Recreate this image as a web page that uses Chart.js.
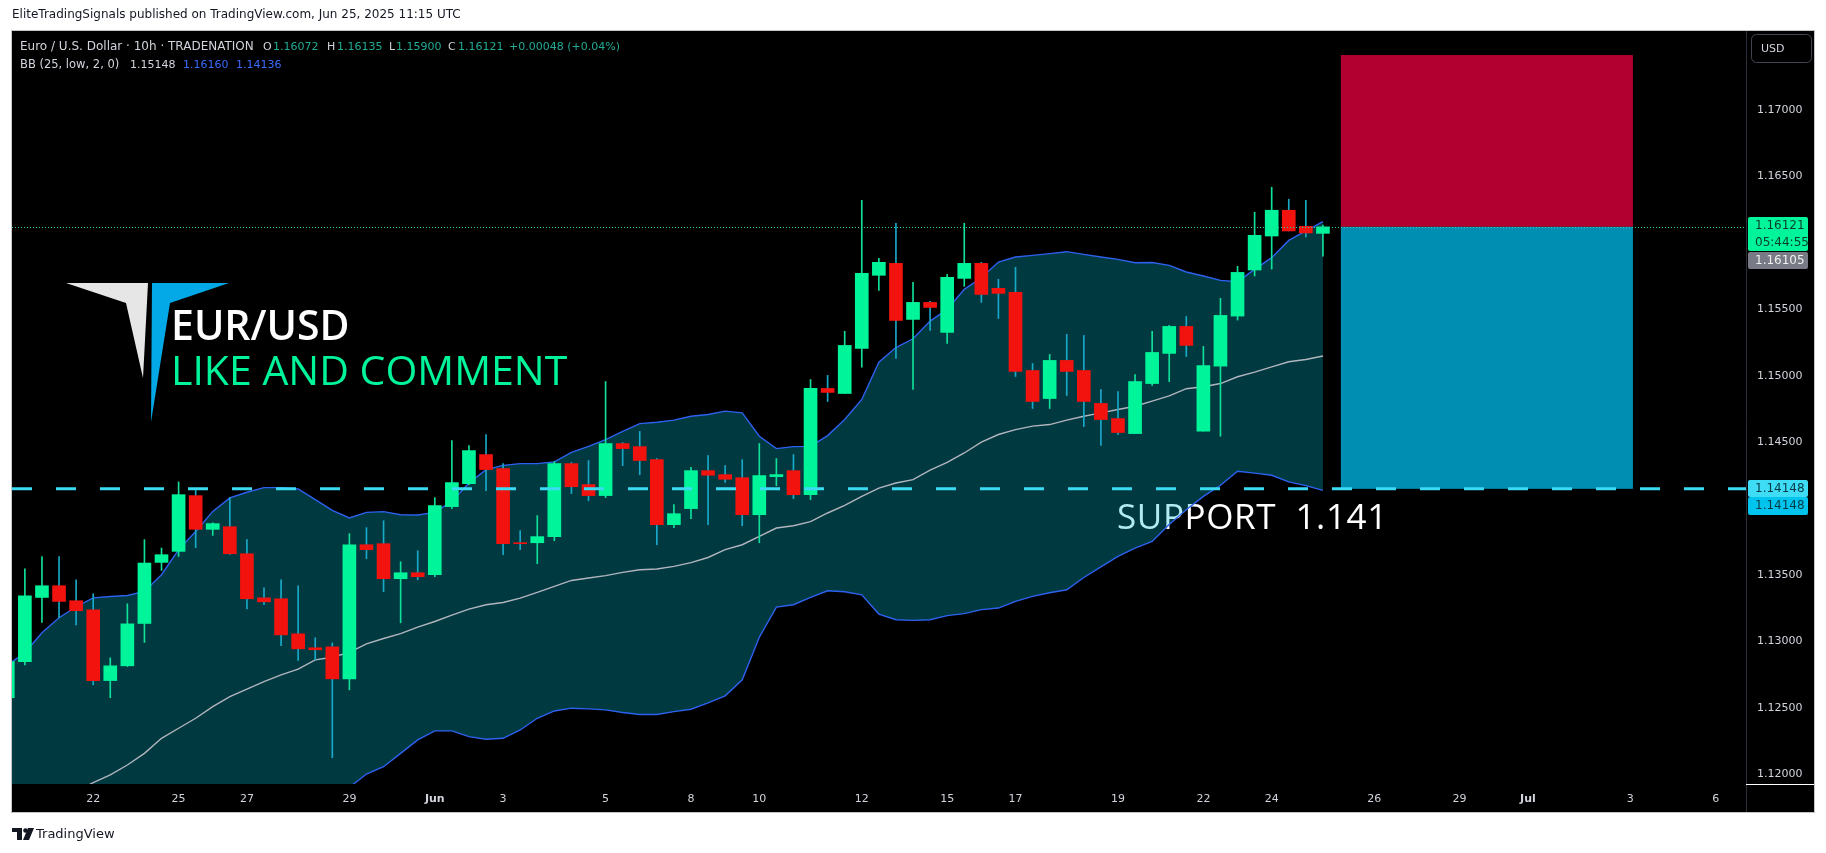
<!DOCTYPE html>
<html>
<head>
<meta charset="utf-8">
<script src="https://cdn.jsdelivr.net/npm/chart.js@4.4.0/dist/chart.umd.min.js"></script>
<style>
  html, body { margin: 0; padding: 0; background: #fff; }
  canvas { display: block; }
</style>
</head>
<body>
<canvas id="chart" width="1826" height="853"></canvas>
<script>
// EUR/USD 10h candles (bar 0 = leftmost, partly hidden)
const opens = [
  1.12575, 1.12847, 1.13330, 1.13418, 1.13305, 1.13237, 1.12704, 1.12815, 1.13134, 1.13594,
  1.13677, 1.14097, 1.13843, 1.13863, 1.13659, 1.13327, 1.13320, 1.13056, 1.12951, 1.12958,
  1.12717, 1.13727, 1.13735, 1.13471, 1.13516, 1.13501, 1.14014, 1.14187, 1.14406, 1.14300,
  1.13742, 1.13742, 1.13788, 1.14338, 1.14180, 1.14097, 1.14489, 1.14466, 1.14368, 1.13878,
  1.13999, 1.14285, 1.14255, 1.14232, 1.13953, 1.14240, 1.14285, 1.14104, 1.14904, 1.14866,
  1.15205, 1.15756, 1.15846, 1.15424, 1.15552, 1.15326, 1.15733, 1.15846, 1.15658, 1.15628,
  1.15039, 1.14828, 1.15115, 1.15039, 1.14791, 1.14677, 1.14564, 1.14941, 1.15168, 1.15371,
  1.14582, 1.15072, 1.15449, 1.15796, 1.16052, 1.16246, 1.16125, 1.16072
];
const highs = [
  1.12900, 1.13546, 1.13637, 1.13637, 1.13463, 1.13358, 1.12875, 1.13282, 1.13765, 1.13702,
  1.14200, 1.14135, 1.13893, 1.14082, 1.13765, 1.13403, 1.13463, 1.13418, 1.13026, 1.12988,
  1.13810, 1.13856, 1.13908, 1.13599, 1.13682, 1.14082, 1.14511, 1.14474, 1.14557, 1.14338,
  1.13833, 1.13946, 1.14353, 1.14346, 1.14361, 1.14956, 1.14496, 1.14580, 1.14376, 1.14029,
  1.14310, 1.14398, 1.14323, 1.14368, 1.14489, 1.14376, 1.14406, 1.14971, 1.15002, 1.15334,
  1.16321, 1.15884, 1.16148, 1.15703, 1.15560, 1.15763, 1.16148, 1.15854, 1.15726, 1.15816,
  1.15092, 1.15160, 1.15311, 1.15303, 1.14896, 1.14881, 1.15009, 1.15334, 1.15379, 1.15446,
  1.15220, 1.15582, 1.15824, 1.16231, 1.16419, 1.16329, 1.16321, 1.16135
];
const lows = [
  1.12500, 1.12822, 1.13141, 1.13177, 1.13124, 1.12672, 1.12575, 1.12810, 1.12991, 1.13533,
  1.13639, 1.13705, 1.13797, 1.13654, 1.13244, 1.13275, 1.12966, 1.12855, 1.12860, 1.12123,
  1.12634, 1.13622, 1.13373, 1.13139, 1.13463, 1.13486, 1.13999, 1.14180, 1.14134, 1.13652,
  1.13690, 1.13584, 1.13757, 1.14112, 1.14059, 1.14082, 1.14323, 1.14255, 1.13727, 1.13856,
  1.13923, 1.13878, 1.14197, 1.13870, 1.13742, 1.14172, 1.14074, 1.14067, 1.14806, 1.14866,
  1.15064, 1.15643, 1.15130, 1.14896, 1.15341, 1.15243, 1.15673, 1.15552, 1.15431, 1.14994,
  1.14753, 1.14753, 1.14851, 1.14617, 1.14474, 1.14557, 1.14564, 1.14926, 1.14956, 1.15145,
  1.14582, 1.14544, 1.15419, 1.15751, 1.15803, 1.16090, 1.16045, 1.15900
];
const closes = [
  1.12847, 1.13343, 1.13418, 1.13300, 1.13230, 1.12704, 1.12815, 1.13131, 1.13589, 1.13652,
  1.14104, 1.13843, 1.13886, 1.13659, 1.13320, 1.13297, 1.13048, 1.12943, 1.12936, 1.12717,
  1.13727, 1.13690, 1.13471, 1.13516, 1.13486, 1.14021, 1.14195, 1.14436, 1.14293, 1.13735,
  1.13735, 1.13788, 1.14338, 1.14164, 1.14097, 1.14489, 1.14451, 1.14361, 1.13878, 1.13961,
  1.14285, 1.14250, 1.14220, 1.13953, 1.14248, 1.14255, 1.14104, 1.14904, 1.14874, 1.15228,
  1.15771, 1.15854, 1.15416, 1.15552, 1.15514, 1.15741, 1.15846, 1.15612, 1.15620, 1.15032,
  1.14806, 1.15115, 1.15032, 1.14806, 1.14670, 1.14572, 1.14956, 1.15175, 1.15371, 1.15228,
  1.15077, 1.15454, 1.15778, 1.16057, 1.16246, 1.16090, 1.16075, 1.16121
];

// Bollinger Bands (25, low, 2)
const bbUpper = [
  1.12822, 1.12913, 1.13064, 1.13177, 1.13260, 1.13327, 1.13337, 1.13345, 1.13375, 1.13501,
  1.13690, 1.13827, 1.13978, 1.14080, 1.14122, 1.14157, 1.14157, 1.14147, 1.14067, 1.13986,
  1.13929, 1.13971, 1.13976, 1.13953, 1.13951, 1.13971, 1.14054, 1.14192, 1.14293, 1.14325,
  1.14338, 1.14338, 1.14351, 1.14423, 1.14468, 1.14519, 1.14581, 1.14639, 1.14649, 1.14665,
  1.14695, 1.14708, 1.14733, 1.14720, 1.14544, 1.14451, 1.14466, 1.14468, 1.14549, 1.14670,
  1.14821, 1.15102, 1.15212, 1.15278, 1.15411, 1.15499, 1.15650, 1.15738, 1.15856, 1.15894,
  1.15906, 1.15919, 1.15934, 1.15914, 1.15894, 1.15876, 1.15851, 1.15853, 1.15831, 1.15781,
  1.15751, 1.15718, 1.15708, 1.15801, 1.15889, 1.16019, 1.16090, 1.16160
];
const bbBasis = [
  1.11660, 1.11700, 1.11750, 1.11810, 1.11870, 1.11935, 1.11993, 1.12068, 1.12156, 1.12269,
  1.12345, 1.12420, 1.12508, 1.12583, 1.12639, 1.12696, 1.12747, 1.12790, 1.12860, 1.12880,
  1.12916, 1.12981, 1.13021, 1.13057, 1.13107, 1.13149, 1.13197, 1.13242, 1.13275, 1.13292,
  1.13325, 1.13368, 1.13413, 1.13458, 1.13476, 1.13494, 1.13519, 1.13539, 1.13544, 1.13564,
  1.13592, 1.13631, 1.13690, 1.13727, 1.13790, 1.13853, 1.13870, 1.13901, 1.13966, 1.14024,
  1.14091, 1.14154, 1.14192, 1.14217, 1.14288, 1.14348, 1.14418, 1.14499, 1.14557, 1.14594,
  1.14620, 1.14632, 1.14665, 1.14695, 1.14720, 1.14745, 1.14770, 1.14808, 1.14848, 1.14902,
  1.14917, 1.14941, 1.14992, 1.15027, 1.15067, 1.15105, 1.15122, 1.15148
];
const bbLower = [
  1.10500, 1.10490, 1.10440, 1.10440, 1.10480, 1.10540, 1.10650, 1.10790, 1.10940, 1.11040,
  1.11000, 1.11010, 1.11040, 1.11090, 1.11160, 1.11240, 1.11340, 1.11430, 1.11650, 1.11770,
  1.11900, 1.12000, 1.12055, 1.12156, 1.12257, 1.12325, 1.12325, 1.12282, 1.12262, 1.12269,
  1.12332, 1.12420, 1.12475, 1.12496, 1.12491, 1.12483, 1.12463, 1.12448, 1.12448, 1.12470,
  1.12488, 1.12536, 1.12589, 1.12710, 1.13030, 1.13257, 1.13275, 1.13330, 1.13380, 1.13373,
  1.13350, 1.13205, 1.13162, 1.13157, 1.13162, 1.13193, 1.13208, 1.13238, 1.13250, 1.13300,
  1.13338, 1.13365, 1.13388, 1.13480, 1.13560, 1.13640, 1.13702, 1.13752, 1.13880, 1.13990,
  1.14091, 1.14175, 1.14280, 1.14266, 1.14250, 1.14200, 1.14172, 1.14136
];

// time axis: bar index where each labelled day starts
const dayTickBars = [5, 10, 14, 20, 25, 29, 35, 40, 44, 50, 55, 59, 65, 70, 74, 80, 85, 89, 95, 100];
const dayTickLabels = ['22', '25', '27', '29', 'Jun', '3', '5', '8', '10', '12', '15', '17', '19', '22', '24', '26', '29', 'Jul', '3', '6'];
const priceTicks = [1.120, 1.125, 1.130, 1.135, 1.140, 1.145, 1.150, 1.155, 1.160, 1.165, 1.170];

const supportLevel = 1.14148;
const lastPrice = 1.16121;
const stopLevel = 1.17415;
const positionBars = [78.05, 95.15];

const GREEN = '#00f59b';
const RED = '#f2130f';
const GREEN_WICK = '#10e09a';
const RED_WICK = '#19a9c8';
const UI_FONT = '"DejaVu Sans", sans-serif';

const isUp = opens.map((o, i) => closes[i] >= o);
const bodies = opens.map((o, i) => ({ x: i, y: [o, closes[i]] }));
const wicks = highs.map((h, i) => ({ x: i, y: [lows[i], h] }));
const toPoints = arr => arr.map((v, i) => ({ x: i, y: v }));

function drawLegend(c) {
    c.textBaseline = 'middle';
    const light = '#d1d4dc', val = '#22ab94', blue = '#3d6bff';
    const row1 = [
        ['Euro / U.S. Dollar \u00b7 10h \u00b7 TRADENATION', 20, light, 12],
        ['O', 263, light, 11], ['1.16072', 273, val, 11],
        ['H', 327, light, 11], ['1.16135', 337, val, 11],
        ['L', 389, light, 11], ['1.15900', 396, val, 11],
        ['C', 448, light, 11], ['1.16121', 458, val, 11],
        ['+0.00048 (+0.04%)', 509, val, 11]
    ];
    const row2 = [
        ['BB (25, low, 2, 0)', 20, light, 11.5],
        ['1.15148', 130, light, 11],
        ['1.16160', 183, blue, 11],
        ['1.14136', 236, blue, 11]
    ];
    row1.forEach(([t, x, col, s]) => { c.font = s + 'px ' + UI_FONT; c.fillStyle = col; c.fillText(t, x, 47); });
    row2.forEach(([t, x, col, s]) => { c.font = s + 'px ' + UI_FONT; c.fillStyle = col; c.fillText(t, x, 65); });
}

function priceTag(c, y, h, bg, lines, fg) {
    c.fillStyle = bg;
    c.beginPath();
    c.roundRect(1748, y, 60, h, 2);
    c.fill();
    c.fillStyle = fg;
    c.font = '12px ' + UI_FONT;
    c.textBaseline = 'middle';
    const step = h / lines.length;
    lines.forEach((t, i) => c.fillText(t, 1755, y + step * (i + 0.5)));
}

const overlay = {
    id: 'overlay',
    beforeDraw(chart) {
        const c = chart.ctx;
        c.save();
        c.fillStyle = '#ffffff';
        c.fillRect(0, 0, chart.width, chart.height);
        c.fillStyle = '#000000';
        c.fillRect(12, 31, 1802, 781);
        c.strokeStyle = '#c4c4c4';
        c.lineWidth = 1;
        c.strokeRect(11.5, 30.5, 1803, 782);
        // header
        c.fillStyle = '#131722';
        c.font = '12px ' + UI_FONT;
        c.textBaseline = 'middle';
        c.fillText('EliteTradingSignals published on TradingView.com, Jun 25, 2025 11:15 UTC', 12, 15);
        // footer logo
        c.fillStyle = '#131722';
        c.fillRect(12, 828, 10, 4);
        c.fillRect(17, 828, 5, 12);
        c.beginPath();
        c.arc(25.5, 830.5, 2.3, 0, Math.PI * 2);
        c.fill();
        c.beginPath();
        c.moveTo(28, 828); c.lineTo(34, 828); c.lineTo(29, 840); c.lineTo(23, 840);
        c.closePath();
        c.fill();
        c.font = '13px ' + UI_FONT;
        c.fillText('TradingView', 36, 835);
        c.restore();
    },
    beforeDatasetsDraw(chart) {
        const c = chart.ctx;
        c.save();
        c.fillStyle = '#ffffff';
        c.font = '35px "Open Sans", sans-serif';
        c.textBaseline = 'alphabetic';
        c.letterSpacing = '0.6px';
        c.fillText('SUPPORT  1.141', 1117, 529);
        c.restore();
    },
    afterDatasetsDraw(chart) {
        const c = chart.ctx;
        const xs = chart.scales.x, ys = chart.scales.y;
        const area = chart.chartArea;
        c.save();
        // short position box
        const x0 = xs.getPixelForValue(positionBars[0]);
        const x1 = xs.getPixelForValue(positionBars[1]);
        const yStop = ys.getPixelForValue(stopLevel);
        const yEntry = ys.getPixelForValue(lastPrice);
        const ySup = ys.getPixelForValue(supportLevel);
        c.fillStyle = '#b20030';
        c.fillRect(x0, yStop, x1 - x0, yEntry - yStop);
        c.fillStyle = '#008fb2';
        c.fillRect(x0, yEntry, x1 - x0, ySup - yEntry);

        // last price dotted line
        c.strokeStyle = '#2fd3a0';
        c.lineWidth = 1;
        c.setLineDash([1, 2]);
        c.beginPath();
        c.moveTo(area.left, Math.round(yEntry) + 0.5);
        c.lineTo(area.right, Math.round(yEntry) + 0.5);
        c.stroke();

        // support dashed line
        c.strokeStyle = '#3bdcf3';
        c.lineWidth = 3;
        c.setLineDash([20, 24]);
        c.beginPath();
        c.moveTo(area.left, ySup);
        c.lineTo(area.right, ySup);
        c.stroke();
        c.setLineDash([]);

        // logo + texts
        c.fillStyle = '#e6e6e6';
        c.beginPath();
        c.moveTo(66, 283); c.lineTo(148, 283); c.lineTo(143, 378); c.lineTo(126, 303);
        c.closePath(); c.fill();
        c.fillStyle = '#03a9e6';
        c.beginPath();
        c.moveTo(152, 283); c.lineTo(229, 283); c.lineTo(170, 303); c.lineTo(151, 422);
        c.closePath(); c.fill();
        c.textBaseline = 'alphabetic';
        c.fillStyle = '#ffffff';
        c.font = '600 41px "Open Sans", sans-serif';
        c.fillText('EUR/USD', 171, 340);
        c.fillStyle = GREEN;
        c.font = '500 41px "Open Sans", sans-serif';
        c.fillText('LIKE AND COMMENT', 171, 385);

        drawLegend(c);

        // price scale decorations
        c.strokeStyle = '#2a2e39';
        c.lineWidth = 1;
        c.beginPath();
        c.moveTo(area.right + 0.5, 31); c.lineTo(area.right + 0.5, 812);
        c.stroke();
        c.strokeStyle = '#ffffff';
        c.beginPath();
        c.moveTo(area.right, area.bottom + 0.5); c.lineTo(1814, area.bottom + 0.5);
        c.stroke();
        c.strokeStyle = '#434651';
        c.beginPath();
        c.roundRect(1751.5, 34.5, 60, 28, 5);
        c.stroke();
        c.fillStyle = '#d1d4dc';
        c.font = '11px ' + UI_FONT;
        c.textBaseline = 'middle';
        c.fillText('USD', 1761, 49);

        priceTag(c, Math.round(yEntry) - 10, 34, GREEN, ['1.16121', '05:44:55'], '#0b3b2c');
        priceTag(c, Math.round(yEntry) + 25, 17, '#787b86', ['1.16105'], '#f0f0f0');
        priceTag(c, Math.round(ySup) - 9, 17, '#3fdcf5', ['1.14148'], '#083a44');
        priceTag(c, Math.round(ySup) + 8, 18, '#00c4ee', ['1.14148'], '#083a44');
        c.restore();
    }
};

new Chart(document.getElementById('chart'), {
    type: 'bar',
    data: {
        datasets: [
            {
                type: 'bar', data: bodies, grouped: false, order: 1, clip: 0,
                backgroundColor: isUp.map(u => u ? GREEN : RED),
                barThickness: 13, minBarLength: 1
            },
            {
                type: 'bar', data: wicks, grouped: false, order: 2, clip: 0,
                backgroundColor: isUp.map(u => u ? GREEN_WICK : RED_WICK),
                barThickness: 1
            },
            {
                type: 'line', data: toPoints(bbUpper), order: 5, clip: 0,
                borderColor: '#2d62f0', borderWidth: 1.4, pointRadius: 0, tension: 0,
                fill: 4, backgroundColor: 'rgba(0, 188, 212, 0.3)'
            },
            {
                type: 'line', data: toPoints(bbBasis), order: 4, clip: 0,
                borderColor: '#b2b5be', borderWidth: 1.4, pointRadius: 0, fill: false
            },
            {
                type: 'line', data: toPoints(bbLower), order: 3, clip: 0,
                borderColor: '#2d62f0', borderWidth: 1.4, pointRadius: 0, fill: false
            }
        ]
    },
    options: {
        responsive: false,
        animation: false,
        events: [],
        layout: { padding: { left: 12, top: 31, right: 12, bottom: 41 } },
        plugins: { legend: { display: false }, tooltip: { enabled: false } },
        scales: {
            x: {
                type: 'linear', min: 0.246, max: 101.77, offset: false,
                grid: { display: false, drawTicks: false },
                border: { display: false },
                afterBuildTicks: s => { s.ticks = dayTickBars.map(v => ({ value: v })); },
                afterFit: s => { s.height = 28; },
                ticks: {
                    autoSkip: false, maxRotation: 0, padding: 9, color: '#d1d4dc',
                    callback: (v, i) => dayTickLabels[i],
                    font: ctx => ({
                        family: 'DejaVu Sans', size: 11,
                        weight: /^[A-Z]/.test(dayTickLabels[ctx.index] || '') ? 'bold' : 'normal'
                    })
                }
            },
            y: {
                type: 'linear', position: 'right', min: 1.11925, max: 1.17596,
                grid: { display: false, drawTicks: false },
                border: { display: false },
                afterBuildTicks: s => { s.ticks = priceTicks.map(v => ({ value: v })); },
                afterFit: s => { s.width = 68; },
                ticks: {
                    padding: 11, color: '#d1d4dc',
                    font: { family: 'DejaVu Sans', size: 11 },
                    callback: v => v.toFixed(5)
                }
            }
        }
    },
    plugins: [overlay]
});
</script>
</body>
</html>
